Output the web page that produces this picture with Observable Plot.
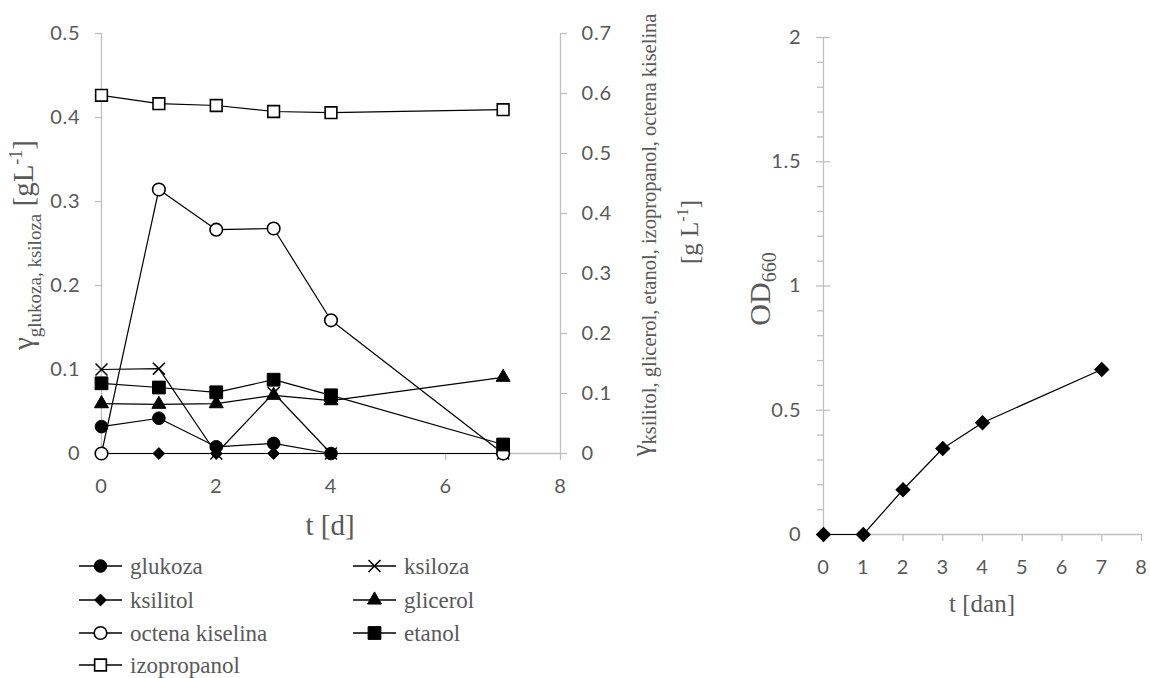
<!DOCTYPE html>
<html><head><meta charset="utf-8">
<script src="https://cdn.jsdelivr.net/npm/d3@7"></script>
<script src="https://cdn.jsdelivr.net/npm/@observablehq/plot@0.6"></script>
<style>
body{margin:0;background:#fff;width:1150px;height:678px;position:relative;overflow:hidden}
.abs{position:absolute}
</style></head><body>
<div id="left" class="abs" style="left:0;top:0"></div>
<div id="legend" class="abs" style="left:0;top:540px"></div>
<div id="right" class="abs" style="left:720px;top:0"></div>
<script>
// ---------- data ----------
const days = [0, 1, 2, 3, 4, 7];
const glukoza     = [0.032, 0.042, 0.008, 0.012, 0, 0];
const ksiloza     = [0.100, 0.101, 0, 0.072, 0, 0];
const ksilitol    = [0, 0, 0, 0, 0, 0];
const glicerol    = [0.083, 0.082, 0.083, 0.097, 0.088, 0.127];
const octena      = [0, 0.440, 0.373, 0.375, 0.222, 0];
const etanol      = [0.117, 0.110, 0.102, 0.123, 0.097, 0.015];
const izopropanol = [0.597, 0.583, 0.580, 0.570, 0.568, 0.573];
const od660       = [0, 0, 0.180, 0.346, 0.450, 0.664];

const leftTicks  = [0, 0.1, 0.2, 0.3, 0.4, 0.5];
const rightTicks = [0, 0.1, 0.2, 0.3, 0.4, 0.5, 0.6, 0.7];
const xTicksL    = [0, 2, 4, 6, 8];
const xTicksR    = [0, 1, 2, 3, 4, 5, 6, 7, 8];
const odMajor    = [0, 0.5, 1, 1.5, 2];
const odMinor    = [0.1,0.2,0.3,0.4,0.6,0.7,0.8,0.9,1.1,1.2,1.3,1.4,1.6,1.7,1.8,1.9];

const seriesNames = ["glukoza","ksiloza","ksilitol","glicerol","octena kiselina","etanol","izopropanol"];
const seriesValues = [glukoza, ksiloza, ksilitol, glicerol, octena, etanol, izopropanol];
const seriesAxis = ["left","left","right","right","right","right","right"];
const seriesStyle = {
  "glukoza":        {symbol:"circle",   fill:"black", r:6.3},
  "ksiloza":        {symbol:"times",    fill:"none",  r:5.5},
  "ksilitol":       {symbol:"diamond2", fill:"black", r:5.3},
  "glicerol":       {symbol:"triangle", fill:"black", r:5.2},
  "octena kiselina":{symbol:"circle",   fill:"white", r:6.3},
  "etanol":         {symbol:"square",   fill:"black", r:7.2},
  "izopropanol":    {symbol:"square",   fill:"white", r:6.6}
};

const K = 0.5 / 0.7; // right-axis value -> left-axis scale
const rows = [];
seriesNames.forEach((name, si) => days.forEach((d, i) =>
  rows.push({series: name, day: d, value: seriesValues[si][i], right: seriesAxis[si] === "right"})));
const yv = d => d.right ? d.value * K : d.value;
const fmt = v => String(Math.round(v * 10) / 10);

const GRAY = "#bfbfbf", TXT = "#595959", SERIF = "'Liberation Serif','Times New Roman',serif";
const TICKFS = 20;
const tickStyle = {fontFamily: "Lato, 'Open Sans', sans-serif", fontSize: "20px", letterSpacing: "0.8px", background: "white", overflow: "visible"};

// ---------- left chart ----------
const marksL = [
  Plot.ruleX([0], {stroke: GRAY, strokeWidth: 1.3}),
  Plot.ruleX([8], {stroke: GRAY, strokeWidth: 1.3}),
  Plot.ruleY([0], {stroke: GRAY, strokeWidth: 1.3}),
  Plot.axisX(xTicksL, {tickSize: 7, tickPadding: 18, stroke: GRAY, fill: TXT, label: null, strokeWidth: 1.3, fontSize: TICKFS}),
  Plot.axisY(leftTicks, {tickSize: 6, tickPadding: 15, stroke: GRAY, fill: TXT, label: null, tickFormat: fmt, strokeWidth: 1.3, fontSize: TICKFS}),
  Plot.axisY(rightTicks.map(v => v * K), {anchor: "right", tickSize: 6, tickPadding: 15, stroke: GRAY, fill: TXT, label: null, tickFormat: d => fmt(d / K), strokeWidth: 1.3, fontSize: TICKFS})
];
seriesNames.forEach(name => {
  const st = seriesStyle[name];
  marksL.push(Plot.line(rows, {filter: d => d.series === name, x: "day", y: yv, stroke: "black", strokeWidth: 1.2}));
  marksL.push(Plot.dot(rows, {filter: d => d.series === name, x: "day", y: yv, symbol: st.symbol, r: st.r,
    fill: st.fill, stroke: "black", strokeWidth: st.fill === "white" ? 1.6 : (st.symbol === "times" ? 1.5 : 1)}));
});

const left = Plot.plot({
  width: 720, height: 545,
  marginLeft: 101, marginRight: 160, marginTop: 33, marginBottom: 92,
  x: {domain: [0, 8]},
  y: {domain: [0, 0.5]},
  style: tickStyle,
  marks: marksL
});
document.getElementById("left").appendChild(left);
const sL = d3.select(left);
// x title
sL.append("text").attr("x", 330).attr("y", 535).attr("text-anchor", "middle").style("letter-spacing", "0")
  .style("font-family", SERIF).style("font-size", "29px").style("fill", TXT).text("t [d]");
// left y title
{
  const t = sL.append("text").attr("transform", "translate(33,245) rotate(-90)").attr("text-anchor", "middle")
    .style("font-family", SERIF).style("fill", TXT).style("letter-spacing", "0");
  t.append("tspan").style("font-size", "29px").text("γ");
  t.append("tspan").style("font-size", "19px").attr("dy", 8).text("glukoza, ksiloza");
  t.append("tspan").style("font-size", "29px").attr("dy", -8).text(" [gL");
  t.append("tspan").style("font-size", "18px").attr("dy", -11).text("-1");
  t.append("tspan").style("font-size", "29px").attr("dy", 11).text("]");
}
// right y title
{
  const t = sL.append("text").attr("transform", "translate(650,235) rotate(-90)").attr("text-anchor", "middle")
    .style("font-family", SERIF).style("fill", TXT).style("letter-spacing", "0");
  t.append("tspan").style("font-size", "27px").text("γ");
  t.append("tspan").style("font-size", "20.5px").attr("dy", 6).text("ksilitol, glicerol, etanol, izopropanol, octena kiselina");
  const t2 = sL.append("text").attr("transform", "translate(698,232) rotate(-90)").attr("text-anchor", "middle")
    .style("font-family", SERIF).style("fill", TXT).style("letter-spacing", "0");
  t2.append("tspan").style("font-size", "25px").text("[g L");
  t2.append("tspan").style("font-size", "16px").attr("dy", -10).text("-1");
  t2.append("tspan").style("font-size", "25px").attr("dy", 10).text("]");
}

// ---------- legend ----------
{
  const lg = d3.select("#legend").append("svg").attr("width", 720).attr("height", 138);
  const pos = [[79,26],[353,26],[79,60],[353,60],[79,93],[353,93],[79,125]];
  const symMap = {circle: d3.symbolCircle, times: d3.symbolTimes, diamond2: d3.symbolDiamond2, triangle: d3.symbolTriangle, square: d3.symbolSquare};
  seriesNames.forEach((name, i) => {
    const [x, y] = pos[i];
    const st = seriesStyle[name];
    const g = lg.append("g").attr("transform", `translate(${x},${y})`);
    g.append("line").attr("x1", 0).attr("x2", 43).attr("y1", 0).attr("y2", 0).attr("stroke", "black").attr("stroke-width", 1.3);
    g.append("path").attr("transform", "translate(21.5,0)")
      .attr("d", d3.symbol(symMap[st.symbol], Math.PI * st.r * st.r)())
      .attr("fill", st.fill).attr("stroke", "black")
      .attr("stroke-width", st.fill === "white" ? 1.6 : (st.symbol === "times" ? 1.5 : 1));
    g.append("text").attr("x", 51).attr("y", 8).style("font-family", SERIF).style("font-size", "23px")
      .style("fill", TXT).text(name);
  });
}

// ---------- right chart ----------
const odRows = days.map((d, i) => ({day: d, od: od660[i]}));
const right = Plot.plot({
  width: 430, height: 640,
  marginLeft: 103, marginRight: 9, marginTop: 37, marginBottom: 106,
  x: {domain: [0, 8]},
  y: {domain: [0, 2]},
  style: tickStyle,
  marks: [
    Plot.ruleX([0], {stroke: GRAY, strokeWidth: 1.3}),
    Plot.ruleY([0], {stroke: GRAY, strokeWidth: 1.3}),
    Plot.axisX(xTicksR, {tickSize: 7, tickPadding: 18, stroke: GRAY, fill: TXT, label: null, strokeWidth: 1.3, fontSize: TICKFS}),
    Plot.axisY(odMajor, {tickSize: 7, tickPadding: 15, stroke: GRAY, fill: TXT, label: null, tickFormat: d => String(d), strokeWidth: 1.3, fontSize: TICKFS}),
    Plot.axisY(odMajor, {tickSize: 7, dx: 7, stroke: GRAY, label: null, tickFormat: () => "", strokeWidth: 1.3}),
    Plot.axisY(odMinor, {tickSize: 6, stroke: GRAY, label: null, tickFormat: () => "", strokeWidth: 1.3}),
    Plot.line(odRows, {x: "day", y: "od", stroke: "black", strokeWidth: 1.2}),
    Plot.dot(odRows, {x: "day", y: "od", symbol: "diamond2", r: 6, fill: "black", stroke: "black"})
  ]
});
document.getElementById("right").appendChild(right);
const sR = d3.select(right);
sR.append("text").attr("x", 262).attr("y", 612).attr("text-anchor", "middle").style("letter-spacing", "0")
  .style("font-family", SERIF).style("font-size", "25px").style("fill", TXT).text("t [dan]");
{
  const t = sR.append("text").attr("transform", "translate(50,289) rotate(-90)").attr("text-anchor", "middle")
    .style("font-family", SERIF).style("fill", TXT).style("letter-spacing", "0");
  t.append("tspan").style("font-size", "30px").text("OD");
  t.append("tspan").style("font-size", "20px").attr("dy", 6).text("660");
}
</script></body></html>
